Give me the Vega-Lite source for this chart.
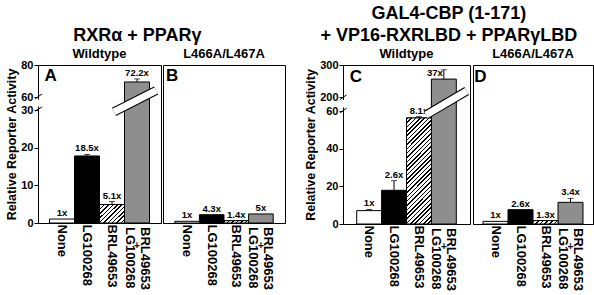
{
"$schema": "https://vega.github.io/schema/vega-lite/v6.json",
"background": "white",
"padding": {"left": 5, "top": 5, "right": 5, "bottom": 5},
"config": {
  "font": "Liberation Sans",
  "view": {"stroke": "black", "strokeWidth": 1},
  "axis": {"labelColor": "black", "labelFontWeight": "bold", "titleColor": "black", "titleFontWeight": "bold", "domainColor": "black", "tickColor": "black", "grid": false, "labelFont": "Liberation Sans", "titleFont": "Liberation Sans"},
  "axisY": {"domain": false, "tickSize": 4, "labelFontSize": 11, "labelPadding": 1, "titleFontSize": 12.5, "titlePadding": 2, "labelOverlap": false, "tickCount": 20},
  "axisX": {"title": null, "labelAngle": 90, "labelAlign": "left", "labelBaseline": "middle", "labelFontSize": 13, "labelPadding": 1, "ticks": false, "labelLimit": 0, "labelOverlap": false, "labelExpr": "datum.value == 'BRL49653+LG100268' ? '' : datum.label"},
  "title": {"font": "Liberation Sans", "fontWeight": "bold", "color": "black", "fontSize": 13, "offset": 4},
  "text": {"font": "Liberation Sans", "fontWeight": "bold", "color": "black"}
},
"datasets": {
  "bars": [
    {"panel": "A", "cond": "None", "value": 1.05, "hi": 1.05, "label": "1x"},
    {"panel": "A", "cond": "LG100268", "value": 17.8, "hi": 18.2, "label": "18.5x"},
    {"panel": "A", "cond": "BRL49653", "value": 4.9, "hi": 5.7, "label": "5.1x"},
    {"panel": "A", "cond": "BRL49653+LG100268", "value": 69.4, "hi": 71.3, "label": "72.2x"},
    {"panel": "B", "cond": "None", "value": 0.45, "hi": 0.45, "label": "1x"},
    {"panel": "B", "cond": "LG100268", "value": 2.2, "hi": 2.2, "label": "4.3x"},
    {"panel": "B", "cond": "BRL49653", "value": 0.6, "hi": 0.6, "label": "1.4x"},
    {"panel": "B", "cond": "BRL49653+LG100268", "value": 2.4, "hi": 2.4, "label": "5x"},
    {"panel": "C", "cond": "None", "value": 7.1, "hi": 7.7, "label": "1x"},
    {"panel": "C", "cond": "LG100268", "value": 17.9, "hi": 23, "label": "2.6x"},
    {"panel": "C", "cond": "BRL49653", "value": 56.3, "hi": 57, "label": "8.1x"},
    {"panel": "C", "cond": "BRL49653+LG100268", "value": 256, "hi": 285, "label": "37x"},
    {"panel": "D", "cond": "None", "value": 1.4, "hi": 1.4, "label": "1x"},
    {"panel": "D", "cond": "LG100268", "value": 7.6, "hi": 7.6, "label": "2.6x"},
    {"panel": "D", "cond": "BRL49653", "value": 1.8, "hi": 1.8, "label": "1.3x"},
    {"panel": "D", "cond": "BRL49653+LG100268", "value": 11.5, "hi": 13.6, "label": "3.4x"}
  ]
},
"spacing": 18,
"hconcat": [
 {
  "title": {"text": [" ", "RXRα + PPARγ"], "fontSize": 18, "lineHeight": 22, "offset": 2, "anchor": "middle", "dx": -8},
  "spacing": 0,
  "hconcat": [
   {
    "width": 123, "height": 158,
    "title": {"text": "Wildtype", "offset": -1.5},
    "layer": [
     {
      "data": {"name": "bars"},
      "transform": [{"filter": "datum.panel == 'A'"}],
      "encoding": {
        "x": {"field": "cond", "type": "nominal", "sort": ["None", "LG100268", "BRL49653", "BRL49653+LG100268"], "scale": {"paddingInner": 0, "paddingOuter": 0.46}},
        "y": {"field": "value", "type": "quantitative", "scale": {"domain": [0, 30, 60, 80], "range": [158, 45, 32, 0], "nice": false, "zero": false}, "axis": {"values": [0, 10, 20, 30, 60, 80], "tickCount": 20, "title": "Relative Reporter Activity"}}
      },
      "layer": [
        {"mark": {"type": "bar", "stroke": "black", "strokeWidth": 1}, "encoding": {"fill": {"field": "cond", "type": "nominal", "scale": {"domain": ["None", "LG100268", "BRL49653", "BRL49653+LG100268"], "range": ["white", "black", "white", "#8e8e8e"]}, "legend": null}}},
        {"transform": [{"filter": "datum.cond == 'BRL49653'"}], "mark": {"type": "bar", "stroke": "black", "strokeWidth": 1, "fill": {"gradient": "linear", "x1": 0, "y1": 0, "x2": 1.12, "y2": 0.84, "stops": [
          {"offset": 0, "color": "black"}, {"offset": 0.035, "color": "black"}, {"offset": 0.035, "color": "white"}, {"offset": 0.1, "color": "white"},
          {"offset": 0.1, "color": "black"}, {"offset": 0.135, "color": "black"}, {"offset": 0.135, "color": "white"}, {"offset": 0.2, "color": "white"},
          {"offset": 0.2, "color": "black"}, {"offset": 0.235, "color": "black"}, {"offset": 0.235, "color": "white"}, {"offset": 0.3, "color": "white"},
          {"offset": 0.3, "color": "black"}, {"offset": 0.335, "color": "black"}, {"offset": 0.335, "color": "white"}, {"offset": 0.4, "color": "white"},
          {"offset": 0.4, "color": "black"}, {"offset": 0.435, "color": "black"}, {"offset": 0.435, "color": "white"}, {"offset": 0.5, "color": "white"},
          {"offset": 0.5, "color": "black"}, {"offset": 0.535, "color": "black"}, {"offset": 0.535, "color": "white"}, {"offset": 0.6, "color": "white"},
          {"offset": 0.6, "color": "black"}, {"offset": 0.635, "color": "black"}, {"offset": 0.635, "color": "white"}, {"offset": 0.7, "color": "white"},
          {"offset": 0.7, "color": "black"}, {"offset": 0.735, "color": "black"}, {"offset": 0.735, "color": "white"}, {"offset": 0.8, "color": "white"},
          {"offset": 0.8, "color": "black"}, {"offset": 0.835, "color": "black"}, {"offset": 0.835, "color": "white"}, {"offset": 0.9, "color": "white"},
          {"offset": 0.9, "color": "black"}, {"offset": 0.935, "color": "black"}, {"offset": 0.935, "color": "white"}, {"offset": 1, "color": "white"}
        ]}}},
        {"transform": [{"filter": "datum.hi > datum.value"}], "mark": {"type": "rule", "color": "black", "strokeWidth": 1}, "encoding": {"y2": {"field": "hi"}}},
        {"transform": [{"filter": "datum.hi > datum.value"}], "mark": {"type": "tick", "color": "black", "size": 6, "thickness": 1}, "encoding": {"y": {"field": "hi", "type": "quantitative"}}},
        {"mark": {"type": "text", "baseline": "alphabetic", "dy": -3, "fontSize": 9.5}, "encoding": {"y": {"field": "hi", "type": "quantitative"}, "text": {"field": "label"}}},
        {"transform": [{"filter": "datum.cond == 'BRL49653+LG100268'"}], "mark": {"type": "text", "angle": 90, "align": "left", "baseline": "middle", "fontSize": 13, "dy": -7.5}, "encoding": {"y": {"datum": -1.06, "type": "quantitative"}, "text": {"value": "BRL49653"}}},
        {"transform": [{"filter": "datum.cond == 'BRL49653+LG100268'"}], "mark": {"type": "text", "angle": 90, "align": "left", "baseline": "middle", "fontSize": 13, "dy": 7.5}, "encoding": {"y": {"datum": -1.06, "type": "quantitative"}, "text": {"value": "LG100268"}}},
        {"transform": [{"filter": "datum.cond == 'BRL49653+LG100268'"}], "mark": {"type": "text", "baseline": "middle", "fontSize": 10}, "encoding": {"y": {"datum": -6, "type": "quantitative"}, "text": {"value": "+"}}}
      ]
     },
     {
      "data": {"values": [{}]},
      "layer": [
        {"mark": {"type": "rule", "color": "black", "strokeWidth": 9, "strokeCap": "butt"}, "encoding": {"x": {"datum": 0.618, "type": "quantitative", "scale": {"domain": [0, 1], "nice": false, "zero": false}, "axis": null}, "x2": {"datum": 0.96}, "y": {"datum": 29.5, "type": "quantitative"}, "y2": {"datum": 64.06}}},
        {"mark": {"type": "rule", "color": "white", "strokeWidth": 7, "strokeCap": "butt"}, "encoding": {"x": {"datum": 0.618, "type": "quantitative", "axis": null}, "x2": {"datum": 0.96}, "y": {"datum": 29.5, "type": "quantitative"}, "y2": {"datum": 64.06}}},
        {"mark": {"type": "rule", "color": "white", "strokeWidth": 3}, "encoding": {"x": {"datum": 0, "type": "quantitative", "axis": null}, "y": {"datum": 38, "type": "quantitative"}, "y2": {"datum": 54}}},
        {"mark": {"type": "rule", "color": "black", "strokeWidth": 1}, "encoding": {"x": {"datum": -0.024, "type": "quantitative", "axis": null}, "x2": {"datum": 0.033}, "y": {"datum": 55.4, "type": "quantitative"}, "y2": {"datum": 61.9}}},
        {"mark": {"type": "rule", "color": "black", "strokeWidth": 1}, "encoding": {"x": {"datum": -0.024, "type": "quantitative", "axis": null}, "x2": {"datum": 0.033}, "y": {"datum": 29.7, "type": "quantitative"}, "y2": {"datum": 36.9}}},
        {"mark": {"type": "text", "fontSize": 17, "baseline": "middle", "align": "center"}, "encoding": {"x": {"datum": 0.102, "type": "quantitative", "axis": null}, "y": {"datum": 73.4, "type": "quantitative"}, "text": {"value": "A"}}}
      ]
     }
    ],
    "resolve": {"scale": {"x": "independent"}}
   },
   {
    "width": 122, "height": 158,
    "title": {"text": "L466A/L467A", "offset": 4},
    "layer": [
     {
      "data": {"name": "bars"},
      "transform": [{"filter": "datum.panel == 'B'"}],
      "encoding": {
        "x": {"field": "cond", "type": "nominal", "sort": ["None", "LG100268", "BRL49653", "BRL49653+LG100268"], "scale": {"paddingInner": 0, "paddingOuter": 0.48}},
        "y": {"field": "value", "type": "quantitative", "scale": {"domain": [0, 30, 60, 80], "range": [158, 45, 32, 0], "nice": false, "zero": false}, "axis": null}
      },
      "layer": [
        {"mark": {"type": "bar", "stroke": "black", "strokeWidth": 1}, "encoding": {"fill": {"field": "cond", "type": "nominal", "scale": {"domain": ["None", "LG100268", "BRL49653", "BRL49653+LG100268"], "range": ["white", "black", "white", "#8e8e8e"]}, "legend": null}}},
        {"transform": [{"filter": "datum.cond == 'BRL49653'"}], "mark": {"type": "bar", "stroke": "black", "strokeWidth": 1, "fill": {"gradient": "linear", "x1": 0, "y1": 0, "x2": 1.083, "y2": 0.0996, "stops": [
          {"offset": 0, "color": "black"}, {"offset": 0.06, "color": "black"}, {"offset": 0.06, "color": "white"}, {"offset": 0.1667, "color": "white"},
          {"offset": 0.1667, "color": "black"}, {"offset": 0.2267, "color": "black"}, {"offset": 0.2267, "color": "white"}, {"offset": 0.3333, "color": "white"},
          {"offset": 0.3333, "color": "black"}, {"offset": 0.3933, "color": "black"}, {"offset": 0.3933, "color": "white"}, {"offset": 0.5, "color": "white"},
          {"offset": 0.5, "color": "black"}, {"offset": 0.56, "color": "black"}, {"offset": 0.56, "color": "white"}, {"offset": 0.6667, "color": "white"},
          {"offset": 0.6667, "color": "black"}, {"offset": 0.7267, "color": "black"}, {"offset": 0.7267, "color": "white"}, {"offset": 0.8333, "color": "white"},
          {"offset": 0.8333, "color": "black"}, {"offset": 0.8933, "color": "black"}, {"offset": 0.8933, "color": "white"}, {"offset": 1, "color": "white"}
        ]}}},
        {"mark": {"type": "text", "baseline": "alphabetic", "dy": -3, "fontSize": 9.5}, "encoding": {"y": {"field": "hi", "type": "quantitative", "axis": null}, "text": {"field": "label"}}},
        {"transform": [{"filter": "datum.cond == 'BRL49653+LG100268'"}], "mark": {"type": "text", "angle": 90, "align": "left", "baseline": "middle", "fontSize": 13, "dy": -7.5}, "encoding": {"y": {"datum": -1.06, "type": "quantitative", "axis": null}, "text": {"value": "BRL49653"}}},
        {"transform": [{"filter": "datum.cond == 'BRL49653+LG100268'"}], "mark": {"type": "text", "angle": 90, "align": "left", "baseline": "middle", "fontSize": 13, "dy": 7.5}, "encoding": {"y": {"datum": -1.06, "type": "quantitative", "axis": null}, "text": {"value": "LG100268"}}},
        {"transform": [{"filter": "datum.cond == 'BRL49653+LG100268'"}], "mark": {"type": "text", "baseline": "middle", "fontSize": 10}, "encoding": {"y": {"datum": -6, "type": "quantitative", "axis": null}, "text": {"value": "+"}}}
      ]
     },
     {
      "data": {"values": [{}]},
      "layer": [
        {"mark": {"type": "text", "fontSize": 17, "baseline": "middle", "align": "center"}, "encoding": {"x": {"datum": 0.074, "type": "quantitative", "scale": {"domain": [0, 1], "nice": false, "zero": false}, "axis": null}, "y": {"datum": 73.4, "type": "quantitative", "axis": null}, "text": {"value": "B"}}}
      ]
     }
    ],
    "resolve": {"scale": {"x": "independent"}}
   }
  ]
 },
 {
  "title": {"text": ["GAL4-CBP (1-171)", "+ VP16-RXRLBD + PPARγLBD"], "fontSize": 18, "lineHeight": 22, "offset": 2, "anchor": "middle"},
  "spacing": 0,
  "hconcat": [
   {
    "width": 127, "height": 159,
    "title": {"text": "Wildtype", "offset": -1.5},
    "layer": [
     {
      "data": {"name": "bars"},
      "transform": [{"filter": "datum.panel == 'C'"}],
      "encoding": {
        "x": {"field": "cond", "type": "nominal", "sort": ["None", "LG100268", "BRL49653", "BRL49653+LG100268"], "scale": {"paddingInner": 0, "paddingOuter": 0.55}},
        "y": {"field": "value", "type": "quantitative", "scale": {"domain": [0, 60, 200, 300], "range": [159, 46, 32, 0], "nice": false, "zero": false}, "axis": {"values": [0, 20, 40, 60, 200, 300], "tickCount": 20, "title": "Relative Reporter Activity"}}
      },
      "layer": [
        {"mark": {"type": "bar", "stroke": "black", "strokeWidth": 1}, "encoding": {"fill": {"field": "cond", "type": "nominal", "scale": {"domain": ["None", "LG100268", "BRL49653", "BRL49653+LG100268"], "range": ["white", "black", "white", "#8e8e8e"]}, "legend": null}}},
        {"transform": [{"filter": "datum.cond == 'BRL49653'"}], "mark": {"type": "bar", "stroke": "black", "strokeWidth": 1, "fill": {"gradient": "linear", "x1": 0, "y1": 0, "x2": 0.276, "y2": 1.17, "stops": [
          {"offset": 0, "color": "black"}, {"offset": 0.012, "color": "black"}, {"offset": 0.012, "color": "white"}, {"offset": 0.0333, "color": "white"},
          {"offset": 0.0333, "color": "black"}, {"offset": 0.0453, "color": "black"}, {"offset": 0.0453, "color": "white"}, {"offset": 0.0667, "color": "white"},
          {"offset": 0.0667, "color": "black"}, {"offset": 0.0787, "color": "black"}, {"offset": 0.0787, "color": "white"}, {"offset": 0.1, "color": "white"},
          {"offset": 0.1, "color": "black"}, {"offset": 0.112, "color": "black"}, {"offset": 0.112, "color": "white"}, {"offset": 0.1333, "color": "white"},
          {"offset": 0.1333, "color": "black"}, {"offset": 0.1453, "color": "black"}, {"offset": 0.1453, "color": "white"}, {"offset": 0.1667, "color": "white"},
          {"offset": 0.1667, "color": "black"}, {"offset": 0.1787, "color": "black"}, {"offset": 0.1787, "color": "white"}, {"offset": 0.2, "color": "white"},
          {"offset": 0.2, "color": "black"}, {"offset": 0.212, "color": "black"}, {"offset": 0.212, "color": "white"}, {"offset": 0.2333, "color": "white"},
          {"offset": 0.2333, "color": "black"}, {"offset": 0.2453, "color": "black"}, {"offset": 0.2453, "color": "white"}, {"offset": 0.2667, "color": "white"},
          {"offset": 0.2667, "color": "black"}, {"offset": 0.2787, "color": "black"}, {"offset": 0.2787, "color": "white"}, {"offset": 0.3, "color": "white"},
          {"offset": 0.3, "color": "black"}, {"offset": 0.312, "color": "black"}, {"offset": 0.312, "color": "white"}, {"offset": 0.3333, "color": "white"},
          {"offset": 0.3333, "color": "black"}, {"offset": 0.3453, "color": "black"}, {"offset": 0.3453, "color": "white"}, {"offset": 0.3667, "color": "white"},
          {"offset": 0.3667, "color": "black"}, {"offset": 0.3787, "color": "black"}, {"offset": 0.3787, "color": "white"}, {"offset": 0.4, "color": "white"},
          {"offset": 0.4, "color": "black"}, {"offset": 0.412, "color": "black"}, {"offset": 0.412, "color": "white"}, {"offset": 0.4333, "color": "white"},
          {"offset": 0.4333, "color": "black"}, {"offset": 0.4453, "color": "black"}, {"offset": 0.4453, "color": "white"}, {"offset": 0.4667, "color": "white"},
          {"offset": 0.4667, "color": "black"}, {"offset": 0.4787, "color": "black"}, {"offset": 0.4787, "color": "white"}, {"offset": 0.5, "color": "white"},
          {"offset": 0.5, "color": "black"}, {"offset": 0.512, "color": "black"}, {"offset": 0.512, "color": "white"}, {"offset": 0.5333, "color": "white"},
          {"offset": 0.5333, "color": "black"}, {"offset": 0.5453, "color": "black"}, {"offset": 0.5453, "color": "white"}, {"offset": 0.5667, "color": "white"},
          {"offset": 0.5667, "color": "black"}, {"offset": 0.5787, "color": "black"}, {"offset": 0.5787, "color": "white"}, {"offset": 0.6, "color": "white"},
          {"offset": 0.6, "color": "black"}, {"offset": 0.612, "color": "black"}, {"offset": 0.612, "color": "white"}, {"offset": 0.6333, "color": "white"},
          {"offset": 0.6333, "color": "black"}, {"offset": 0.6453, "color": "black"}, {"offset": 0.6453, "color": "white"}, {"offset": 0.6667, "color": "white"},
          {"offset": 0.6667, "color": "black"}, {"offset": 0.6787, "color": "black"}, {"offset": 0.6787, "color": "white"}, {"offset": 0.7, "color": "white"},
          {"offset": 0.7, "color": "black"}, {"offset": 0.712, "color": "black"}, {"offset": 0.712, "color": "white"}, {"offset": 0.7333, "color": "white"},
          {"offset": 0.7333, "color": "black"}, {"offset": 0.7453, "color": "black"}, {"offset": 0.7453, "color": "white"}, {"offset": 0.7667, "color": "white"},
          {"offset": 0.7667, "color": "black"}, {"offset": 0.7787, "color": "black"}, {"offset": 0.7787, "color": "white"}, {"offset": 0.8, "color": "white"},
          {"offset": 0.8, "color": "black"}, {"offset": 0.812, "color": "black"}, {"offset": 0.812, "color": "white"}, {"offset": 0.8333, "color": "white"},
          {"offset": 0.8333, "color": "black"}, {"offset": 0.8453, "color": "black"}, {"offset": 0.8453, "color": "white"}, {"offset": 0.8667, "color": "white"},
          {"offset": 0.8667, "color": "black"}, {"offset": 0.8787, "color": "black"}, {"offset": 0.8787, "color": "white"}, {"offset": 0.9, "color": "white"},
          {"offset": 0.9, "color": "black"}, {"offset": 0.912, "color": "black"}, {"offset": 0.912, "color": "white"}, {"offset": 0.9333, "color": "white"},
          {"offset": 0.9333, "color": "black"}, {"offset": 0.9453, "color": "black"}, {"offset": 0.9453, "color": "white"}, {"offset": 0.9667, "color": "white"},
          {"offset": 0.9667, "color": "black"}, {"offset": 0.9787, "color": "black"}, {"offset": 0.9787, "color": "white"}, {"offset": 1, "color": "white"}
        ]}}},
        {"transform": [{"filter": "datum.hi > datum.value"}], "mark": {"type": "rule", "color": "black", "strokeWidth": 1}, "encoding": {"y2": {"field": "hi"}}},
        {"transform": [{"filter": "datum.hi > datum.value"}], "mark": {"type": "tick", "color": "black", "size": 6, "thickness": 1}, "encoding": {"y": {"field": "hi", "type": "quantitative"}}},
        {"transform": [{"filter": "datum.label != '37x'"}], "mark": {"type": "text", "baseline": "alphabetic", "dy": -3, "fontSize": 9.5}, "encoding": {"y": {"field": "hi", "type": "quantitative"}, "text": {"field": "label"}}},
        {"transform": [{"filter": "datum.label == '37x'"}], "mark": {"type": "text", "baseline": "alphabetic", "dy": -3, "dx": -9, "fontSize": 9.5}, "encoding": {"y": {"field": "value", "type": "quantitative"}, "text": {"field": "label"}}},
        {"transform": [{"filter": "datum.cond == 'BRL49653+LG100268'"}], "mark": {"type": "text", "angle": 90, "align": "left", "baseline": "middle", "fontSize": 13, "dy": -7.5}, "encoding": {"y": {"datum": -2.12, "type": "quantitative"}, "text": {"value": "BRL49653"}}},
        {"transform": [{"filter": "datum.cond == 'BRL49653+LG100268'"}], "mark": {"type": "text", "angle": 90, "align": "left", "baseline": "middle", "fontSize": 13, "dy": 7.5}, "encoding": {"y": {"datum": -2.12, "type": "quantitative"}, "text": {"value": "LG100268"}}},
        {"transform": [{"filter": "datum.cond == 'BRL49653+LG100268'"}], "mark": {"type": "text", "baseline": "middle", "fontSize": 10}, "encoding": {"y": {"datum": -12, "type": "quantitative"}, "text": {"value": "+"}}}
      ]
     },
     {
      "data": {"values": [{}]},
      "layer": [
        {"mark": {"type": "rule", "color": "black", "strokeWidth": 9, "strokeCap": "butt"}, "encoding": {"x": {"datum": 0.654, "type": "quantitative", "scale": {"domain": [0, 1], "nice": false, "zero": false}, "axis": null}, "x2": {"datum": 0.974}, "y": {"datum": 57.9, "type": "quantitative"}, "y2": {"datum": 218.75}}},
        {"mark": {"type": "rule", "color": "white", "strokeWidth": 7, "strokeCap": "butt"}, "encoding": {"x": {"datum": 0.654, "type": "quantitative", "axis": null}, "x2": {"datum": 0.974}, "y": {"datum": 57.9, "type": "quantitative"}, "y2": {"datum": 218.75}}},
        {"mark": {"type": "rule", "color": "white", "strokeWidth": 3}, "encoding": {"x": {"datum": 0, "type": "quantitative", "axis": null}, "y": {"datum": 95, "type": "quantitative"}, "y2": {"datum": 170}}},
        {"mark": {"type": "rule", "color": "black", "strokeWidth": 1}, "encoding": {"x": {"datum": -0.024, "type": "quantitative", "axis": null}, "x2": {"datum": 0.029}, "y": {"datum": 173, "type": "quantitative"}, "y2": {"datum": 207}}},
        {"mark": {"type": "rule", "color": "black", "strokeWidth": 1}, "encoding": {"x": {"datum": -0.024, "type": "quantitative", "axis": null}, "x2": {"datum": 0.029}, "y": {"datum": 58.9, "type": "quantitative"}, "y2": {"datum": 90}}},
        {"mark": {"type": "text", "fontSize": 17, "baseline": "middle", "align": "center"}, "encoding": {"x": {"datum": 0.102, "type": "quantitative", "axis": null}, "y": {"datum": 264, "type": "quantitative"}, "text": {"value": "C"}}}
      ]
     }
    ],
    "resolve": {"scale": {"x": "independent"}}
   },
   {
    "width": 120, "height": 159,
    "title": {"text": "L466A/L467A", "offset": 4},
    "layer": [
     {
      "data": {"name": "bars"},
      "transform": [{"filter": "datum.panel == 'D'"}],
      "encoding": {
        "x": {"field": "cond", "type": "nominal", "sort": ["None", "LG100268", "BRL49653", "BRL49653+LG100268"], "scale": {"paddingInner": 0, "paddingOuter": 0.4}},
        "y": {"field": "value", "type": "quantitative", "scale": {"domain": [0, 60, 200, 300], "range": [159, 46, 32, 0], "nice": false, "zero": false}, "axis": null}
      },
      "layer": [
        {"mark": {"type": "bar", "stroke": "black", "strokeWidth": 1}, "encoding": {"fill": {"field": "cond", "type": "nominal", "scale": {"domain": ["None", "LG100268", "BRL49653", "BRL49653+LG100268"], "range": ["white", "black", "white", "#8e8e8e"]}, "legend": null}}},
        {"transform": [{"filter": "datum.cond == 'BRL49653'"}], "mark": {"type": "bar", "stroke": "black", "strokeWidth": 1, "fill": {"gradient": "linear", "x1": 0, "y1": 0, "x2": 1.115, "y2": 0.152, "stops": [
          {"offset": 0, "color": "black"}, {"offset": 0.06, "color": "black"}, {"offset": 0.06, "color": "white"}, {"offset": 0.1667, "color": "white"},
          {"offset": 0.1667, "color": "black"}, {"offset": 0.2267, "color": "black"}, {"offset": 0.2267, "color": "white"}, {"offset": 0.3333, "color": "white"},
          {"offset": 0.3333, "color": "black"}, {"offset": 0.3933, "color": "black"}, {"offset": 0.3933, "color": "white"}, {"offset": 0.5, "color": "white"},
          {"offset": 0.5, "color": "black"}, {"offset": 0.56, "color": "black"}, {"offset": 0.56, "color": "white"}, {"offset": 0.6667, "color": "white"},
          {"offset": 0.6667, "color": "black"}, {"offset": 0.7267, "color": "black"}, {"offset": 0.7267, "color": "white"}, {"offset": 0.8333, "color": "white"},
          {"offset": 0.8333, "color": "black"}, {"offset": 0.8933, "color": "black"}, {"offset": 0.8933, "color": "white"}, {"offset": 1, "color": "white"}
        ]}}},
        {"transform": [{"filter": "datum.hi > datum.value"}], "mark": {"type": "rule", "color": "black", "strokeWidth": 1}, "encoding": {"y2": {"field": "hi"}}},
        {"transform": [{"filter": "datum.hi > datum.value"}], "mark": {"type": "tick", "color": "black", "size": 6, "thickness": 1}, "encoding": {"y": {"field": "hi", "type": "quantitative", "axis": null}}},
        {"mark": {"type": "text", "baseline": "alphabetic", "dy": -3, "fontSize": 9.5}, "encoding": {"y": {"field": "hi", "type": "quantitative", "axis": null}, "text": {"field": "label"}}},
        {"transform": [{"filter": "datum.cond == 'BRL49653+LG100268'"}], "mark": {"type": "text", "angle": 90, "align": "left", "baseline": "middle", "fontSize": 13, "dy": -7.5}, "encoding": {"y": {"datum": -2.12, "type": "quantitative", "axis": null}, "text": {"value": "BRL49653"}}},
        {"transform": [{"filter": "datum.cond == 'BRL49653+LG100268'"}], "mark": {"type": "text", "angle": 90, "align": "left", "baseline": "middle", "fontSize": 13, "dy": 7.5}, "encoding": {"y": {"datum": -2.12, "type": "quantitative", "axis": null}, "text": {"value": "LG100268"}}},
        {"transform": [{"filter": "datum.cond == 'BRL49653+LG100268'"}], "mark": {"type": "text", "baseline": "middle", "fontSize": 10}, "encoding": {"y": {"datum": -12, "type": "quantitative", "axis": null}, "text": {"value": "+"}}}
      ]
     },
     {
      "data": {"values": [{}]},
      "layer": [
        {"mark": {"type": "text", "fontSize": 17, "baseline": "middle", "align": "center"}, "encoding": {"x": {"datum": 0.0625, "type": "quantitative", "scale": {"domain": [0, 1], "nice": false, "zero": false}, "axis": null}, "y": {"datum": 264, "type": "quantitative", "axis": null}, "text": {"value": "D"}}}
      ]
     }
    ],
    "resolve": {"scale": {"x": "independent"}}
   }
  ]
 }
]
}
